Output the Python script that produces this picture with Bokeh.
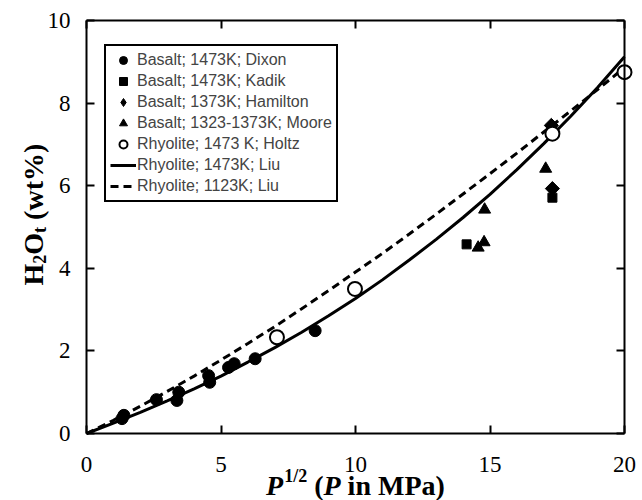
import math
from bokeh.plotting import figure
from bokeh.models import LinearAxis, FixedTicker, Label, Legend, LegendItem, Range1d
from bokeh.embed import file_html
from bokeh.resources import INLINE

# ---- data ----
dixon_x = [1.32, 1.39, 2.6, 3.36, 3.43, 4.54, 4.58, 5.28, 5.49, 6.27, 8.5]
dixon_y = [0.36, 0.44, 0.82, 0.80, 1.00, 1.40, 1.24, 1.60, 1.69, 1.81, 2.49]

kadik_x = [14.13, 17.32]
kadik_y = [4.58, 5.71]

hamilton_x = [17.32, 17.28]
hamilton_y = [5.93, 7.46]

moore_x = [14.56, 14.78, 14.80, 17.07]
moore_y = [4.50, 4.63, 5.42, 6.41]

holtz_x = [7.08, 9.98, 17.32, 20.0]
holtz_y = [2.33, 3.50, 7.26, 8.75]

curve_x = [0, 1, 2, 3, 4, 5, 6, 7, 8, 9, 10, 11, 12, 13, 14, 15, 16, 17, 18, 19, 20]
liu1473_y = [0, 0.25, 0.51, 0.79, 1.08, 1.39, 1.73, 2.08, 2.45, 2.85, 3.27, 3.72,
             4.20, 4.70, 5.23, 5.79, 6.39, 7.02, 7.68, 8.38, 9.12]
liu1123_y = [0, 0.32, 0.66, 1.02, 1.39, 1.78, 2.18, 2.59, 3.02, 3.46, 3.91, 4.36,
             4.83, 5.31, 5.80, 6.29, 6.79, 7.30, 7.81, 8.33, 8.86]

x_ticks = [0, 5, 10, 15, 20]
y_ticks = [0, 2, 4, 6, 8, 10]

legend_labels = ["Basalt; 1473K; Dixon", "Basalt; 1473K; Kadik", "Basalt; 1373K; Hamilton",
                 "Basalt; 1323-1373K; Moore", "Rhyolite; 1473 K; Holtz",
                 "Rhyolite; 1473K; Liu", "Rhyolite; 1123K; Liu"]

SERIF = "Liberation Serif"
SANS = "Liberation Sans"

# canvas geometry (px): data box 86..624 horizontally, 20..433 vertically
W, H = 642, 500
BOX_L, BOX_R, BOX_T, BOX_B = 86, 624, 20, 433
XS = (BOX_R - BOX_L) / 20.0
YS = (BOX_B - BOX_T) / 10.0

def px2x(px):
    return (px - BOX_L) / XS

def py2y(py):
    return (BOX_B - py) / YS

p = figure(width=W, height=H,
           x_range=Range1d(px2x(0), px2x(W)), y_range=Range1d(py2y(H), py2y(0)),
           output_backend="svg", toolbar_location=None, min_border=0,
           x_axis_location=None, y_axis_location=None)
p.xgrid.visible = False
p.ygrid.visible = False
p.outline_line_color = None
p.background_fill_color = "white"
p.border_fill_color = "white"

def make_axis(ticks, bounds, loc, show_labels):
    ax = LinearAxis(fixed_location=loc, bounds=bounds)
    ax.ticker = FixedTicker(ticks=ticks)
    ax.axis_line_width = 2
    ax.axis_line_color = "black"
    ax.major_tick_in = 8
    ax.major_tick_out = 0
    ax.major_tick_line_width = 2
    ax.minor_tick_line_color = None
    if show_labels:
        ax.major_label_text_font = SERIF
        ax.major_label_text_font_size = "23px"
        ax.major_label_text_color = "black"
    else:
        ax.major_label_text_color = None
    return ax

bottom_ax = make_axis(x_ticks, (0, 20), 0, True)
bottom_ax.major_label_standoff = 23
p.add_layout(bottom_ax, "below")
left_ax = make_axis(y_ticks, (0, 10), 0, True)
left_ax.major_label_standoff = 16
p.add_layout(left_ax, "left")
top_ax = make_axis(x_ticks, (0, 20), 10, False)
p.add_layout(top_ax, "above")
right_ax = make_axis(y_ticks, (0, 10), 20, False)
p.add_layout(right_ax, "right")

# curves
r_solid = p.line(curve_x, liu1473_y, line_color="black", line_width=3)
r_dash = p.line(curve_x, liu1123_y, line_color="black", line_width=3, line_dash="8 5")

# points
r_dixon = p.scatter(dixon_x, dixon_y, marker="circle", size=12, color="black")
r_kadik = p.scatter(kadik_x, kadik_y, marker="square", size=9, color="black")
# Hamilton: diamond (used for the legend key) covered by a rotated square of the same colour
r_ham = p.scatter(hamilton_x, hamilton_y, marker="diamond", size=12, color="black")
p.scatter(hamilton_x, hamilton_y, marker="square", size=10, angle=math.pi / 4, color="black")
r_moore = p.scatter(moore_x, moore_y, marker="triangle", size=12, color="black")
r_holtz = p.scatter(holtz_x, holtz_y, marker="circle", size=14, line_color="black",
                    line_width=2, fill_color="white")

renderers = [r_dixon, r_kadik, r_ham, r_moore, r_holtz, r_solid, r_dash]
items = [LegendItem(label=lab, renderers=[r]) for lab, r in zip(legend_labels, renderers)]
legend = Legend(items=items, location=(104, H - 202))
legend.label_text_font = SANS
legend.label_text_font_size = "16px"
legend.label_height = 20
legend.glyph_height = 20
legend.glyph_width = 26
legend.spacing = 1
legend.padding = 4
legend.label_standoff = 1
legend.border_line_color = "black"
legend.border_line_width = 2
legend.border_line_alpha = 1
legend.background_fill_alpha = 1
p.add_layout(legend, "center")

# axis titles built from pieces (mixed italic / sub / superscript)
xt_base = py2y(485)
xt_sup = py2y(475)
pieces_x = [
    ("P", 265.6, xt_base, "bold italic", "28px"),
    ("1/2", 283.7, xt_sup, "bold", "18px"),
    ("(", 313.7, xt_base, "bold", "28px"),
    ("P", 323.0, xt_base, "bold italic", "28px"),
    ("in MPa)", 347.1, xt_base, "bold", "28px"),
]
for txt, px, yy, style, size in pieces_x:
    p.add_layout(Label(x=px2x(px), y=yy, text=txt, text_font=SERIF, text_font_style=style,
                       text_font_size=size, text_align="left", text_baseline="alphabetic",
                       text_color="black"))

yt_base = px2x(33)
yt_sub = px2x(39)
pieces_y = [
    ("H", 285.0, yt_base, "28px"),
    ("2", 263.2, yt_sub, "18px"),
    ("O", 254.2, yt_base, "28px"),
    ("t", 232.4, yt_sub, "18px"),
    ("(wt%)", 219.4, yt_base, "28px"),
]
for txt, py, xx, size in pieces_y:
    p.add_layout(Label(x=xx, y=py2y(py), text=txt, text_font=SERIF, text_font_style="bold",
                       text_font_size=size, text_align="left", text_baseline="alphabetic",
                       angle=math.pi / 2, text_color="black"))

open("out.html", "w").write(file_html(p, INLINE))
